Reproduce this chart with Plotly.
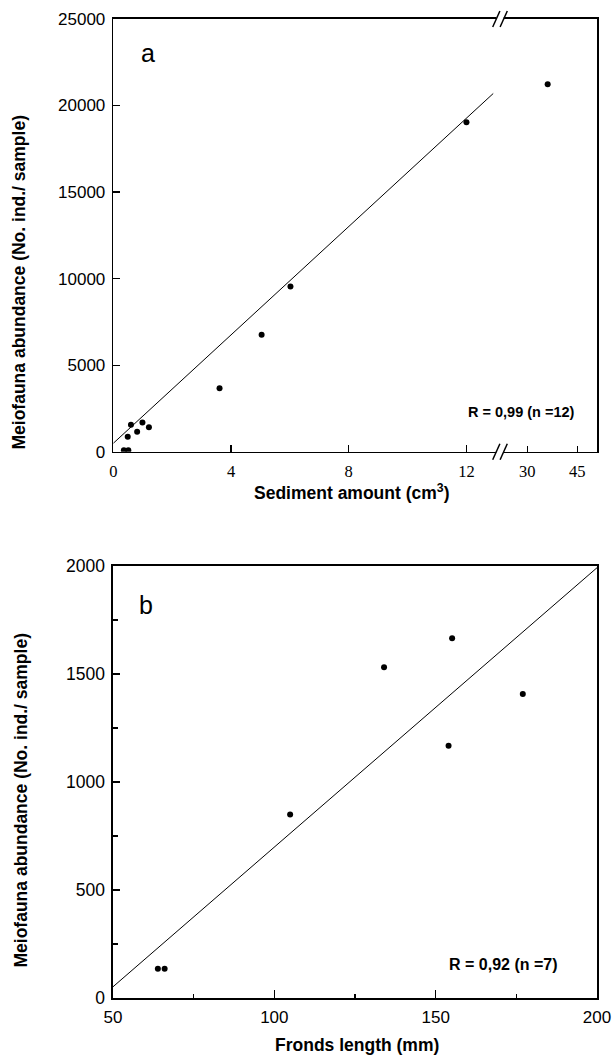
import plotly.graph_objects as go

W, H = 613, 1060

# ---------------- data ----------------
# Panel a: sediment amount (cm3) vs meiofauna abundance
sed_x = [0.36, 0.51, 0.49, 0.60, 0.81, 0.99, 1.21, 3.61, 5.04, 6.02, 12.0]
sed_y = [80, 80, 869, 1563, 1158, 1680, 1411, 3667, 6759, 9543, 19029]
sed_x_broken = [36.1]          # point beyond the axis break
sed_y_broken = [21233]
fit_a_x = [0.0, 12.91]
fit_a_y = [486, 20695]

# Panel b: fronds length (mm) vs meiofauna abundance
frond_x = [63.9, 66.0, 104.9, 134.0, 155.1, 154.0, 177.0]
frond_y = [135, 135, 849, 1531, 1665, 1168, 1407]
fit_b_x = [50, 200]
fit_b_y = [52, 1992]

ya_ticks = [0, 5000, 10000, 15000, 20000, 25000]
xa_ticks_1 = [0, 4, 8, 12]
xa_ticks_2 = [30, 45]
yb_ticks = [0, 500, 1000, 1500, 2000]
xb_ticks = [50, 100, 150, 200]

# ---------------- layout helpers (pixel -> paper) ----------------
def px(x):
    return x / W

def py(y):
    return 1 - y / H

A_L, A_B, A_R, A_T, A_BRK = 113.3, 451.7, 597.0, 19.0, 500.0
B_L, B_B, B_R, B_T = 113.0, 998.0, 597.0, 566.0

SANS = "Liberation Sans, Arial, sans-serif"
SERIF = "Liberation Serif, Times New Roman, serif"
BLACK = "black"

fig = go.Figure()

mk = dict(color=BLACK, size=6, symbol="circle")
fig.add_trace(go.Scatter(x=sed_x, y=sed_y, mode="markers", marker=mk,
                         xaxis="x", yaxis="y", showlegend=False))
fig.add_trace(go.Scatter(x=fit_a_x, y=fit_a_y, mode="lines",
                         line=dict(color=BLACK, width=1),
                         xaxis="x", yaxis="y", showlegend=False))
fig.add_trace(go.Scatter(x=sed_x_broken, y=sed_y_broken, mode="markers", marker=mk,
                         xaxis="x2", yaxis="y2", showlegend=False))
fig.add_trace(go.Scatter(x=frond_x, y=frond_y, mode="markers", marker=mk,
                         xaxis="x3", yaxis="y3", showlegend=False))
fig.add_trace(go.Scatter(x=fit_b_x, y=fit_b_y, mode="lines",
                         line=dict(color=BLACK, width=1),
                         xaxis="x3", yaxis="y3", showlegend=False))

axline = dict(showline=True, linecolor=BLACK, linewidth=1.6, showgrid=False,
              zeroline=False, ticks="inside", tickcolor=BLACK, tickwidth=1.3)

fig.update_layout(
    width=W, height=H, template="none",
    margin=dict(l=0, r=0, t=0, b=0),
    paper_bgcolor="white", plot_bgcolor="white",
    showlegend=False,
    xaxis=dict(**axline, domain=[px(A_L), px(A_BRK)], range=[0, 13.14],
               anchor="y", mirror=True, tickvals=xa_ticks_1, ticklen=7,
               tickfont=dict(family=SERIF, size=16.5, color=BLACK),
               ticklabelstandoff=4),
    yaxis=dict(**axline, domain=[py(A_B), py(A_T)], range=[0, 25000],
               anchor="x", tickvals=ya_ticks, ticklen=7, tickformat="d",
               tickfont=dict(family=SANS, size=17, color=BLACK),
               ticklabelstandoff=3),
    xaxis2=dict(**axline, domain=[px(A_BRK), px(A_R)], range=[21.8, 50.9],
                anchor="y2", mirror=True, tickvals=xa_ticks_2, ticklen=6,
                tickfont=dict(family=SERIF, size=16.5, color=BLACK),
                ticklabelstandoff=4),
    yaxis2=dict(showline=True, linecolor=BLACK, linewidth=1.6, showgrid=False,
                zeroline=False, domain=[py(A_B), py(A_T)], range=[0, 25000],
                anchor="x2", side="right", ticks="", showticklabels=False),
    xaxis3=dict(**axline, domain=[px(B_L), px(B_R)], range=[50, 200],
                anchor="y3", mirror=True, tickvals=xb_ticks, ticklen=8,
                minor=dict(dtick=25, ticks="inside", ticklen=4, tickcolor=BLACK,
                           tickwidth=1.3, showgrid=False),
                tickfont=dict(family=SANS, size=17, color=BLACK),
                ticklabelstandoff=3),
    yaxis3=dict(**axline, domain=[py(B_B), py(B_T)], range=[0, 2000],
                anchor="x3", mirror=True, tickvals=yb_ticks, ticklen=7,
                minor=dict(dtick=250, ticks="inside", ticklen=5, tickcolor=BLACK,
                           tickwidth=1.3, showgrid=False),
                tickfont=dict(family=SANS, size=17.5, color=BLACK),
                ticklabelstandoff=3),
)

# ---------------- axis-break marks ----------------
shapes = []
for yline in (A_T, A_B):
    shapes.append(dict(type="rect", xref="paper", yref="paper",
                       x0=px(A_BRK - 3.7), x1=px(A_BRK + 3.7),
                       y0=py(yline + 2), y1=py(yline - 2),
                       fillcolor="white", line=dict(width=0)))
    for cx in (A_BRK - 3.7, A_BRK + 3.7):
        shapes.append(dict(type="line", xref="paper", yref="paper",
                           x0=px(cx - 3.6), y0=py(yline + 8),
                           x1=px(cx + 3.6), y1=py(yline - 8),
                           line=dict(color=BLACK, width=1.5)))
fig.update_layout(shapes=shapes)

# ---------------- texts ----------------
def note(text, x, y, size, angle=0):
    return dict(text=text, x=px(x), y=py(y), xref="paper", yref="paper",
                xanchor="center", yanchor="middle", showarrow=False,
                textangle=angle, font=dict(family=SANS, size=size, color=BLACK))

ann = [
    note("a", 148, 52.5, 25),
    note("b", 146, 605, 25),
    note("<b>R = 0,99 (n =12)</b>", 521.5, 412.3, 14.5),
    note("<b>R = 0,92 (n =7)</b>", 503.7, 964, 16),
    note("<b>Sediment amount (cm<sup>3</sup>)</b>", 351, 492, 17.5),
    note("<b>Fronds length (mm)</b>", 356.5, 1045, 17.5),
    note("<b>Meiofauna abundance (No. ind./ sample)</b>", 18, 282.5, 17.5, -90),
    note("<b>Meiofauna abundance (No. ind./ sample)</b>", 20.5, 801, 17.5, -90),
]
fig.update_layout(annotations=ann)

# remove the default page margin so the figure sits at the window's origin
page_js = ("document.body.style.margin='0';"
           "document.body.style.padding='0';"
           "document.body.style.overflow='hidden';")

fig.write_html("out.html", post_script=page_js,
               config={"displayModeBar": False, "staticPlot": True})
